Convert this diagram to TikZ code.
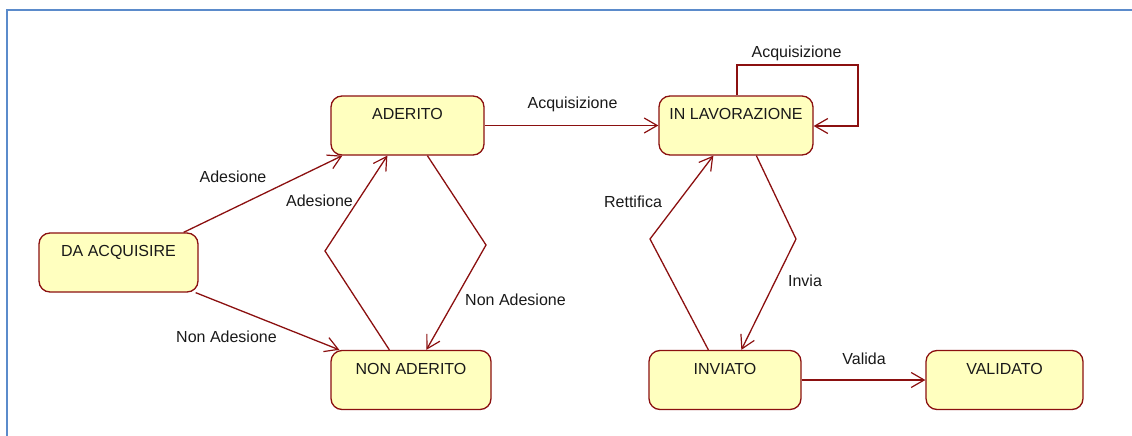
\documentclass[tikz,border=0pt]{standalone}
\usepackage{fontspec}
\setmainfont{Liberation Sans}
\usetikzlibrary{arrows.meta,calc}
\definecolor{edgered}{HTML}{8B1010}
\definecolor{boxfill}{HTML}{FFFFBF}
\definecolor{frameblue}{HTML}{5B8BCB}
\tikzset{
  statebox/.style={draw=edgered, line width=1.3pt, fill=boxfill, rounded corners=11pt,
    inner xsep=0pt, inner ysep=6pt, text height=17.5pt, text depth=29.5pt,
    font=\fontsize{16pt}{18pt}\selectfont, text=black!90},
  trans/.style={draw=edgered, line width=1.3pt, -{Straight Barb[length=13pt,width=15pt,line width=1.2pt]}},
  lbl/.style={font=\fontsize{16pt}{18pt}\selectfont, text=black!90, inner sep=0pt}
}
\begin{document}
\begin{tikzpicture}[x=1pt,y=-1pt]
\useasboundingbox (0,0) rectangle (1132,436);
\draw[frameblue, line width=2pt] (7,437) -- (7,10) -- (1133,10);

\node[statebox, minimum width=159pt] (da) at (118.5,262.5) {DA ACQUISIRE};
\node[statebox, minimum width=153pt] (ad) at (407.5,125.5) {ADERITO};
\node[statebox, minimum width=160pt] (na) at (411,380) {NON ADERITO};
\node[statebox, minimum width=154pt] (il) at (736,125.5) {IN LAVORAZIONE};
\node[statebox, minimum width=152pt] (inv) at (725,380) {INVIATO};
\node[statebox, minimum width=157pt] (val) at (1004.5,380) {VALIDATO};

\coordinate (b1) at (325,251);
\coordinate (b2) at (486,245);
\coordinate (b3) at (650,239);
\coordinate (b4) at (796,239);
\coordinate (l1) at (737,65);
\coordinate (l2) at (858,65);
\coordinate (l3) at (858,126);

\draw[trans] ($(da.north east)+(-15,0)$) -- ($(ad.south west)+(12,0)$);
\draw[trans] ($(da.south east)+(-3,0)$) -- ($(na.north west)+(9,0)$);
\draw[trans] ($(na.north west)+(59,0)$) -- (b1) -- ($(ad.south west)+(57,0)$);
\draw[trans] ($(ad.south west)+(97,0)$) -- (b2) -- ($(na.north west)+(96,0)$);
\draw[trans] (ad.east) -- (il.west);
\draw[trans] (il.north -| l1) -- (l1) -- (l2) -- (l3) -- (il.east |- l3);
\draw[trans] ($(inv.north west)+(60,0)$) -- (b3) -- ($(il.south west)+(55,0)$);
\draw[trans] ($(il.south west)+(98,0)$) -- (b4) -- ($(inv.north west)+(93,0)$);
\draw[trans] (inv.east) -- (val.west);

\node[lbl] (t1) at (233,177) {Adesione};
\node[lbl] (t2) at (319.5,201) {Adesione};
\node[lbl] (t3) at (226.5,337) {Non Adesione};
\node[lbl] (t4) at (515.5,300) {Non Adesione};
\node[lbl] (t5) at (572.5,104) {Acquisizione};
\node[lbl] (t6) at (796.5,53) {Acquisizione};
\node[lbl] (t7) at (633,202) {Rettifica};
\node[lbl] (t8) at (805,281) {Invia};
\node[lbl] (t9) at (864,359) {Valida};
\end{tikzpicture}
\end{document}
